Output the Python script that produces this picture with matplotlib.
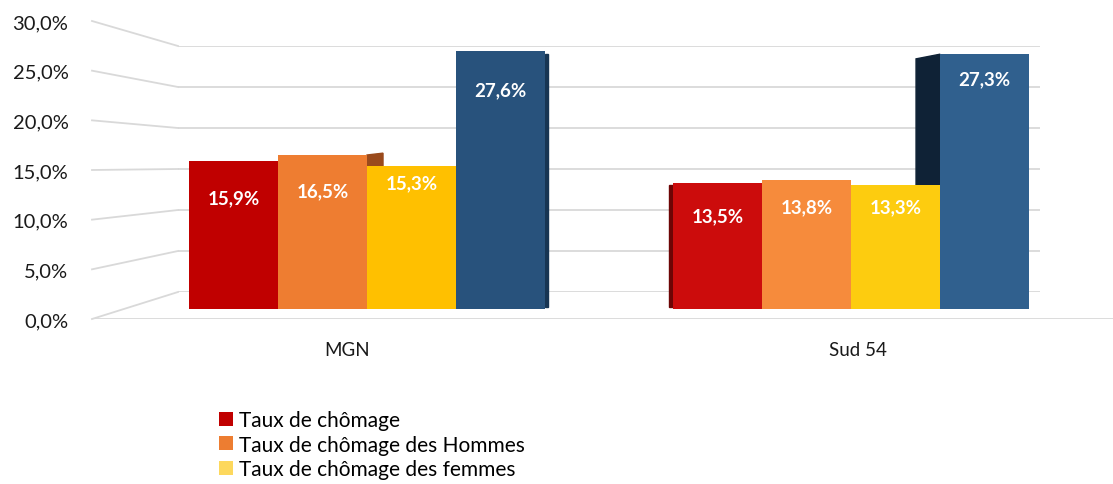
import matplotlib.pyplot as plt
import numpy as np
from matplotlib.patches import Patch, Polygon, Rectangle
from matplotlib.lines import Line2D

plt.rcParams['font.family'] = ['Lato', 'DejaVu Sans']

# data
categories = ['MGN', 'Sud 54']
series = ['Taux de chômage', 'Taux de chômage des Hommes',
          'Taux de chômage des femmes', 'Taux de chômage des jeunes']
chomage = [15.9, 13.5]
hommes = [16.5, 13.8]
femmes = [15.3, 13.3]
jeunes = [27.6, 27.3]
yticks = [0, 5, 10, 15, 20, 25, 30]

values = [chomage, hommes, femmes, jeunes]
# colours per group (second group is a bit brighter in the original)
colors = [['#c00000', '#cc0c0c'],
          ['#ee7d31', '#f68b3c'],
          ['#ffc000', '#fdcc0f'],
          ['#28527c', '#30608e']]
legend_colors = ['#c00000', '#ed7d31', '#fdd85d']
# label drop below bar top, in pixels
label_drop = [[37, 33], [36, 27], [17, 22], [38, 25]]

W, H = 1113, 485
fig = plt.figure(figsize=(W / 100, H / 100), dpi=100)

def rect(l, r, t, b):
    return [l / W, 1 - b / H, (r - l) / W, (b - t) / H]

# back wall (where gridlines live)
ax_back = fig.add_axes(rect(178, 1040, 47, 293))
# front edge, carries the tick labels
ax_front = fig.add_axes(rect(92, 1113, 22, 320))
# bars
ax_bar = fig.add_axes(rect(125, 1093, 30, 310))

grid_c = '#d9d9d9'
for a in (ax_back, ax_front, ax_bar):
    a.set_ylim(0, 30)
    a.patch.set_alpha(0)
    for s in a.spines.values():
        s.set_visible(False)
ax_back.set_xlim(0, 1)
ax_back.set_xticks([])
ax_back.set_yticks([])
for v in yticks:
    ax_back.axhline(v, color=grid_c, lw=1.3)

ax_front.set_xlim(-0.5, 1.5)
ax_front.set_yticks(yticks)
ax_front.set_yticklabels([f'{v:.1f}'.replace('.', ',') + '%' for v in yticks])
ax_front.set_xticks(range(len(categories)))
ax_front.set_xticklabels(categories)
ax_front.tick_params(axis='y', length=0, pad=17, labelsize=14.5, labelcolor='#1a1a1a')
ax_front.tick_params(axis='x', length=0, pad=16, labelsize=13.5, labelcolor='#1a1a1a')
ax_front.axhline(0, color=grid_c, lw=1.3)

# slanted lines joining the front labels to the back wall
inv = fig.transFigure.inverted()
for v in yticks:
    p0 = inv.transform(ax_front.transData.transform((-0.5, v)))
    p1 = inv.transform(ax_back.transData.transform((0, v)))
    fig.add_artist(Line2D([p0[0], p1[0]], [p0[1], p1[1]], color=grid_c,
                          lw=1.3, transform=fig.transFigure))

# bars
ax_bar.set_xlim(-0.5, 1.5)
ax_bar.set_xticks([])
ax_bar.set_yticks([])
w = 0.184
x = np.arange(len(categories))
px = w / 89  # one pixel in x data units
for i, vals in enumerate(values):
    xs = x + (i - 1.5) * w
    ax_bar.bar(xs, vals, width=w, color=colors[i], zorder=3 + i * 0.1)
    for j, (xx, v) in enumerate(zip(xs, vals)):
        ax_bar.annotate(f'{v:.1f}'.replace('.', ',') + '%', (xx, v),
                        xytext=(0, -label_drop[i][j]), textcoords='offset pixels',
                        ha='center', va='center', color='white',
                        fontsize=13.5, fontweight='bold', zorder=6)

# 3D side faces
xo = x[0]  # right edge of MGN orange bar
ax_bar.add_patch(Polygon([(xo, hommes[0]), (xo + 16 * px, hommes[0] + 0.2),
                          (xo + 16 * px, 0), (xo, 0)],
                         color='#9a4a1c', zorder=2))
xb = x[0] + 2 * w
ax_bar.add_patch(Rectangle((xb, 0.2), 3 * px, jeunes[0] - 0.5,
                           color='#173553', zorder=2))
xr = x[1] - 2 * w
ax_bar.add_patch(Rectangle((xr - 4 * px, 0.2), 4 * px, chomage[1] - 0.4,
                           color='#6d0505', zorder=2))
xj = x[1] + w
ax_bar.add_patch(Polygon([(xj - 24 * px, 0), (xj - 24 * px, jeunes[1] - 0.5),
                          (xj, jeunes[1]), (xj, 0)],
                         color='#0f2236', zorder=2))

handles = [Patch(facecolor=c, edgecolor='none') for c in legend_colors]
fig.legend(handles, series[:3], loc='upper left',
           bbox_to_anchor=(219 / W, 1 - 411 / H), frameon=False,
           fontsize=15, handlelength=0.65, handleheight=0.65,
           handletextpad=0.3, labelspacing=0.22, borderpad=0, borderaxespad=0)

fig.savefig('out.png', dpi=100)
